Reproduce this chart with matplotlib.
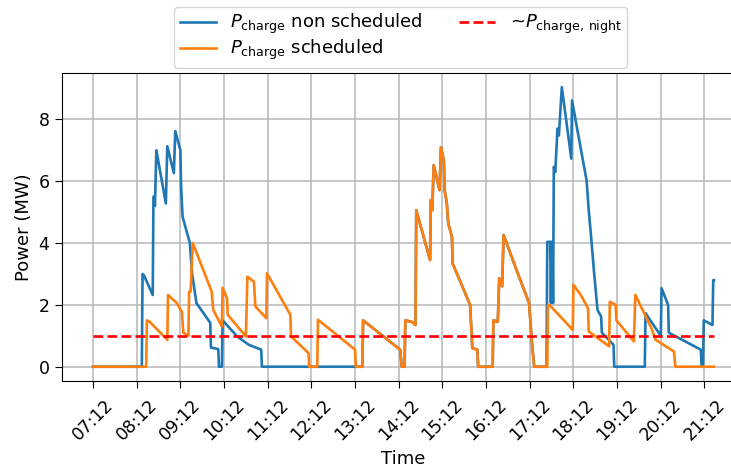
import matplotlib
matplotlib.use("Agg")
import matplotlib.pyplot as plt
import pandas as pd

# ---- data (clock time, MW) ----
blue_am_times = ["07:12", "08:19", "08:20", "08:22", "08:34", "08:35", "08:36", "08:37", "08:39",
                 "08:52", "08:54", "09:03", "09:05", "09:12", "09:13", "09:15", "09:25", "09:28",
                 "09:34", "09:53", "09:54", "10:04", "10:05", "10:09", "10:10", "10:30", "10:46",
                 "11:03", "11:04", "13:13"]
blue_am_vals = [0, 0, 3.0, 2.95, 2.32, 5.5, 5.5, 5.2, 7.0,
                5.28, 7.13, 6.26, 7.62, 7.0, 5.77, 4.85, 4.0, 3.03,
                2.06, 1.42, 0.62, 0.57, 0, 0, 1.5, 0.98, 0.71,
                0.55, 0, 0]

orange_am_times = ["07:12", "08:25", "08:26", "08:30", "08:54", "08:55", "09:07", "09:14", "09:16",
                   "09:23", "09:24", "09:26", "09:29", "09:55", "09:57", "10:09", "10:10", "10:16",
                   "10:17", "10:42", "10:44", "10:53", "10:55", "11:10", "11:11", "11:43", "11:44",
                   "12:08", "12:09", "12:20", "12:21", "13:12", "13:13"]
orange_am_vals = [0, 0, 1.5, 1.45, 0.87, 2.32, 2.06, 1.78, 1.1,
                  1.0, 2.43, 2.43, 4.0, 2.43, 1.85, 1.3, 2.55, 2.22,
                  1.68, 0.98, 2.91, 2.75, 1.95, 1.57, 3.02, 1.68, 0.98,
                  0.44, 0, 0, 1.52, 0.55, 0]

# identical for both series in the middle of the day
shared_times = ["13:22", "13:23", "14:14", "14:16", "14:20", "14:21", "14:30", "14:35", "14:36",
                "14:55", "14:56", "14:58", "15:00", "15:08", "15:10", "15:14", "15:15", "15:18",
                "15:20", "15:25", "15:26", "15:50", "15:53", "16:00", "16:01", "16:21", "16:22",
                "16:28", "16:30", "16:34", "16:36", "16:55", "17:11", "17:15", "17:18"]
shared_vals = [0, 1.5, 0.55, 0, 0, 1.5, 1.45, 1.35, 5.06,
               3.45, 5.39, 5.06, 6.52, 5.71, 7.1, 6.65, 5.71, 5.28,
               4.64, 4.2, 3.34, 2.0, 0.6, 0.55, 0, 0, 1.5,
               1.45, 2.86, 2.6, 4.26, 3.05, 2.06, 0.76, 0]

blue_pm_times = ["17:35", "17:36", "17:40", "17:41", "17:42", "17:43", "17:44", "17:45", "17:47",
                 "17:50", "17:52", "17:56", "18:09", "18:10", "18:30", "18:33", "18:37", "18:40",
                 "18:45", "18:50", "18:51", "19:07", "19:08", "19:50", "19:51", "20:12", "20:13",
                 "20:22", "20:23", "21:07", "21:08", "21:10", "21:11", "21:23", "21:24", "21:25"]
blue_pm_vals = [0, 4.04, 4.04, 2.06, 4.04, 4.04, 2.06, 6.46, 6.3,
                7.7, 7.48, 9.04, 6.73, 8.61, 6.03, 5.06, 3.99, 3.13,
                1.84, 1.62, 1.1, 0.71, 0, 0, 1.73, 1.0, 2.54,
                2.0, 1.1, 0.55, 0, 0, 1.5, 1.35, 2.8, 2.8]

orange_pm_times = ["17:36", "17:37", "17:39", "18:11", "18:12", "18:22", "18:32", "18:33", "19:01",
                   "19:02", "19:10", "19:11", "19:35", "19:37", "19:59", "20:05", "20:30", "20:32",
                   "21:25"]
orange_pm_vals = [0, 2.0, 2.0, 1.19, 2.65, 2.32, 1.89, 1.14, 0.66,
                  2.1, 2.0, 1.5, 0.82, 2.32, 1.25, 0.87, 0.49, 0,
                  0]

night_level = 1.0
night_span = ["07:12", "21:25"]

tick_labels = ["07:12", "08:12", "09:12", "10:12", "11:12", "12:12", "13:12", "14:12",
               "15:12", "16:12", "17:12", "18:12", "19:12", "20:12", "21:12"]


def to_dt(ts):
    return pd.to_datetime(["2023-01-01 " + t for t in ts])


blue_t = to_dt(blue_am_times + shared_times + blue_pm_times)
blue_v = blue_am_vals + shared_vals + blue_pm_vals
orange_t = to_dt(orange_am_times + shared_times + orange_pm_times)
orange_v = orange_am_vals + shared_vals + orange_pm_vals

fig = plt.figure(figsize=(7.31, 4.70), dpi=100)
ax = fig.add_axes([62 / 731, (470 - 380.7) / 470, (745 - 62) / 731, (380.7 - 73.2) / 470])

ax.plot(blue_t, blue_v, color="#1f77b4", lw=1.9, label=r"$P_\mathrm{charge}$ non scheduled")
ax.plot(orange_t, orange_v, color="#ff7f0e", lw=1.9, label=r"$P_\mathrm{charge}$ scheduled")
ax.plot(to_dt(night_span), [night_level, night_level], color="red", ls="--", lw=1.9,
        label=r"~$P_\mathrm{charge,\,night}$")

ax.set_xticks(to_dt(tick_labels))
ax.set_xticklabels(tick_labels, rotation=45, fontsize=12.5)
ax.set_yticks([0, 2, 4, 6, 8])
ax.tick_params(axis="y", labelsize=12.5, length=5, pad=4)
ax.tick_params(axis="x", length=5, pad=6)
ax.grid(True, color="#b8b8b8", lw=1.1)
ax.set_xlabel("Time", fontsize=13)
ax.set_ylabel("Power (MW)", fontsize=13)

ax.legend(loc="lower center", bbox_to_anchor=(0.496, 1.0), ncol=2, fontsize=13,
          labelspacing=0.1, borderaxespad=0.3, borderpad=0.3)

fig.savefig("out.png", dpi=100)
